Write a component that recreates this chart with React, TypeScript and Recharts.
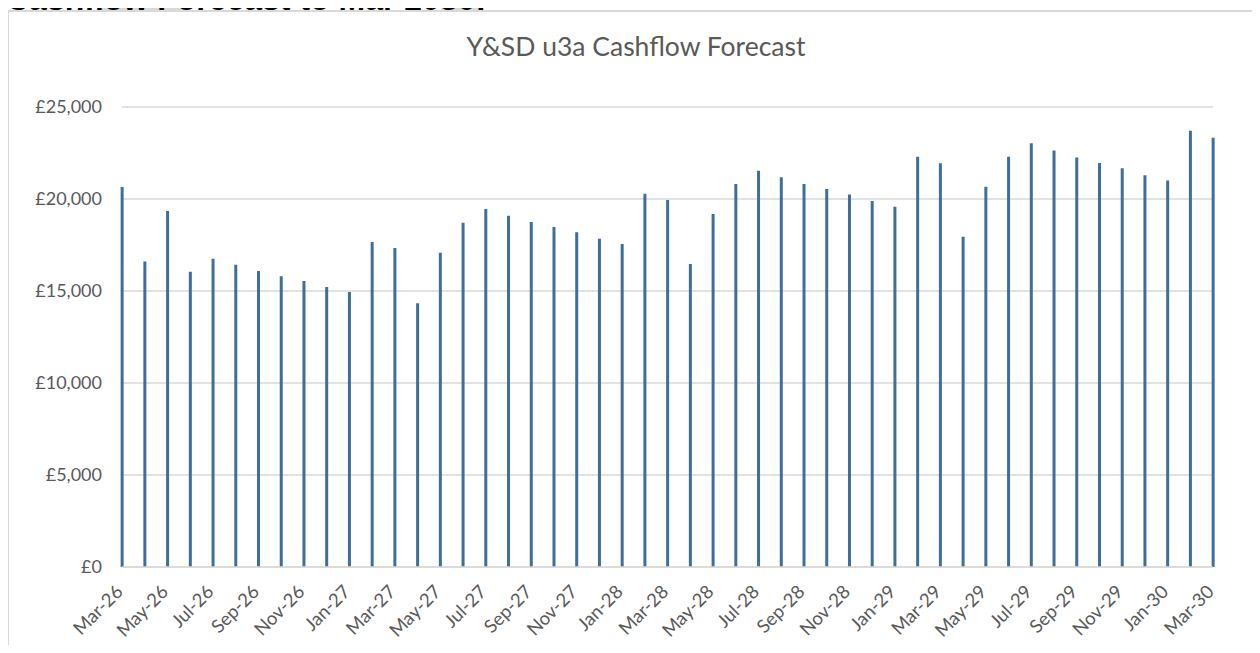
import React from "react";
import { BarChart, Bar, XAxis, YAxis, CartesianGrid } from "recharts";

const months: string[] = [
  "Mar-26", "Apr-26", "May-26", "Jun-26", "Jul-26", "Aug-26", "Sep-26", "Oct-26", "Nov-26", "Dec-26",
  "Jan-27", "Feb-27", "Mar-27", "Apr-27", "May-27", "Jun-27", "Jul-27", "Aug-27", "Sep-27", "Oct-27",
  "Nov-27", "Dec-27", "Jan-28", "Feb-28", "Mar-28", "Apr-28", "May-28", "Jun-28", "Jul-28", "Aug-28",
  "Sep-28", "Oct-28", "Nov-28", "Dec-28", "Jan-29", "Feb-29", "Mar-29", "Apr-29", "May-29", "Jun-29",
  "Jul-29", "Aug-29", "Sep-29", "Oct-29", "Nov-29", "Dec-29", "Jan-30", "Feb-30", "Mar-30",
];

const balance: number[] = [
  20650, 16600, 19350, 16050, 16750, 16430, 16090, 15800, 15540, 15220,
  14950, 17660, 17340, 14330, 17080, 18710, 19460, 19090, 18750, 18480,
  18190, 17840, 17550, 20290, 19950, 16470, 19180, 20810, 21540, 21180,
  20810, 20540, 20240, 19890, 19580, 22300, 21940, 17950, 20670, 22300,
  23030, 22630, 22250, 21960, 21670, 21290, 21000, 23710, 23330,
];

const yTicks: number[] = [0, 5000, 10000, 15000, 20000, 25000];
const xTickIndexes: number[] = months.map((_, i) => i).filter((i) => i % 2 === 0);

const pageHeading = "Cashflow Forecast to Mar 2030:";
const chartTitle = "Y&SD u3a Cashflow Forecast";

const data = months.map((m, i) => ({ idx: i, month: m, value: balance[i] }));

const FONT = "Lato, 'Open Sans', sans-serif";

const XTick = (props: any) => {
  const { x, y, payload } = props;
  const tx = x + 2;
  return (
    <text
      x={tx}
      y={y}
      transform={`rotate(-45 ${tx} ${y})`}
      textAnchor="end"
      fill="#595959"
      fontSize={18.5}
      fontFamily={FONT}
    >
      {months[payload.value]}
    </text>
  );
};

export default function App() {
  return (
    <div
      style={{
        position: "relative",
        width: 1260,
        height: 653,
        margin: -8,
        overflow: "hidden",
        background: "#fff",
      }}
    >
      <svg width={1260} height={653} style={{ position: "absolute", left: 0, top: 0 }}>
        <rect x={100} y={0} width={90} height={10} fill="#d9d9d9" />
        <rect x={441} y={0} width={41} height={10} fill="#d9d9d9" />
        <text x={6} y={10} fontFamily="'Liberation Sans', Arial, sans-serif" fontWeight="bold" fontSize={32} fill="#000">
          {pageHeading}
        </text>
        <rect x={8} y={11} width={1400} height={800} fill="none" stroke="#d9d9d9" strokeWidth={2} />
        <text x={636} y={56} textAnchor="middle" fontFamily={FONT} fontSize={26.5} fill="#595959">
          {chartTitle}
        </text>
      </svg>
      <div style={{ position: "absolute", left: 0, top: 0 }}>
        <BarChart
          width={1260}
          height={653}
          data={data}
          margin={{ top: 107, right: 47, bottom: 0, left: 0 }}
        >
          <CartesianGrid vertical={false} stroke="#d9d9d9" strokeWidth={1.5} />
          <XAxis
            dataKey="idx"
            type="number"
            domain={[0, 48]}
            ticks={xTickIndexes}
            interval={0}
            height={86}
            axisLine={{ stroke: "#d9d9d9", strokeWidth: 1.5 }}
            tickLine={false}
            tickSize={0}
            tickMargin={26}
            tick={<XTick />}
          />
          <YAxis
            type="number"
            domain={[0, 25000]}
            ticks={yTicks}
            width={122}
            axisLine={false}
            tickLine={false}
            tickSize={0}
            tickMargin={20}
            tick={{ fill: "#595959", fontSize: 18, fontFamily: FONT }}
            tickFormatter={(v: number) => `£${v.toLocaleString("en-GB")}`}
          />
          <Bar dataKey="value" fill="#3F6E99" barSize={3} isAnimationActive={false} />
        </BarChart>
      </div>
    </div>
  );
}
